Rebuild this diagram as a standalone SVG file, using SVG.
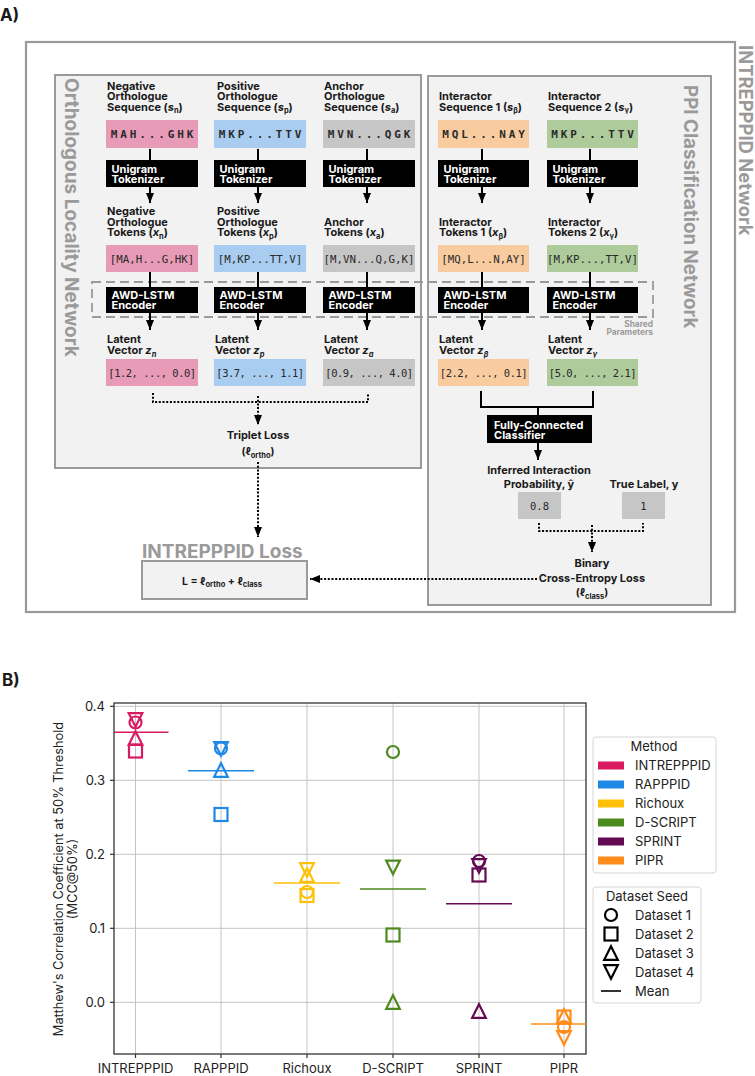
<svg xmlns="http://www.w3.org/2000/svg" xmlns:xlink="http://www.w3.org/1999/xlink" width="755" height="1076" viewBox="0 0 755 1076">
<style>
.t{font-family:Inter,'Liberation Sans','DejaVu Sans',sans-serif;font-weight:700;font-size:11px;fill:#1a1a1a}
.w{fill:#ffffff}
.mono{font-family:'DejaVu Sans Mono','Liberation Mono',monospace;fill:#2a2a2a}
.seq{font-size:11px;font-weight:700;letter-spacing:2.9px}
.tok{font-size:10.8px;font-weight:400}
.lat{font-size:10.5px;font-weight:400;letter-spacing:-0.5px}
.vt{font-family:Inter,'Liberation Sans',sans-serif;font-weight:700;font-size:19px;fill:#9a9a9a}
.panel{fill:#f2f2f2;stroke:#9a9a9a;stroke-width:2}
.blk{fill:#000}
.pink{fill:#e89bb7}.blue{fill:#a9cdf0}.grey{fill:#c6c6c6}.orng{fill:#f9cca0}.grn{fill:#aecb9b}
.ln{stroke:#000;stroke-width:2;fill:none}
.dot{stroke:#000;stroke-width:2;fill:none;stroke-dasharray:2 1.7}
.ax{font-family:Inter,'Liberation Sans',sans-serif;font-size:13px;fill:#222;font-weight:400}
.grid{stroke:#c4c4c4;stroke-width:1}
.mk{fill:none;stroke-width:2.2}
.mean{stroke-width:1.6}
.sub{font-size:7.5px}
</style>
<defs>
<marker id="ah" viewBox="0 0 10 8" refX="10" refY="4" markerWidth="10" markerHeight="8" markerUnits="userSpaceOnUse" orient="auto"><path d="M0,0 L10,4 L0,8 Z" fill="#000"/></marker>
<circle id="mc" r="6"/>
<rect id="ms" x="-6.5" y="-6.5" width="13" height="13"/>
<path id="mu" d="M0,-6.8 L6.8,6.8 L-6.8,6.8 Z"/>
<path id="md" d="M0,6.8 L6.8,-6.8 L-6.8,-6.8 Z"/>
</defs>

<text class="t" x="0" y="21" style="font-size:17px">A)</text>

<g id="intrepppid-network">
<rect x="26" y="42" width="709" height="570" fill="#fff" stroke="#9a9a9a" stroke-width="2.2"/>
<text class="vt" transform="translate(739,45) rotate(90)" style="font-size:18.4px">INTREPPPID Network</text>
</g>

<g id="ortho-network">
<rect class="panel" x="55" y="75" width="366" height="393"/>
<text class="vt" transform="translate(64.5,78) rotate(90)">Orthologous Locality Network</text>
</g>

<g id="ppi-network">
<rect class="panel" x="428" y="76" width="283" height="529"/>
<text class="vt" transform="translate(684,85) rotate(90)" style="font-size:18.8px">PPI Classification Network</text>
</g>

<g id="shared-parameters">
<rect x="92" y="282" width="561" height="35" fill="none" stroke="#9a9a9a" stroke-width="1.8" stroke-dasharray="9 5"/>
<text class="t" x="653" y="326.5" text-anchor="end" style="font-size:8.3px;fill:#9a9a9a">Shared</text>
<text class="t" x="653" y="335" text-anchor="end" style="font-size:8.3px;fill:#9a9a9a">Parameters</text>
</g>

<!-- column 1 -->
<g id="neg-seq">
<text class="t" x="107" y="89.5">Negative</text>
<text class="t" x="107" y="100">Orthologue</text>
<text class="t" x="107" y="110.5">Sequence (<tspan font-style="italic">s</tspan><tspan dy="2.5" class="sub">n</tspan><tspan dy="-2.5">)</tspan></text>
<rect class="pink" x="106" y="120" width="92" height="28"/>
<text class="mono seq" x="153.5" y="138" text-anchor="middle">MAH...GHK</text>
</g>
<g id="neg-tokenizer">
<rect class="blk" x="106" y="160" width="92" height="27"/>
<text class="t w" x="111.5" y="173">Unigram</text>
<text class="t w" x="111.5" y="183">Tokenizer</text>
</g>
<g id="neg-tokens">
<text class="t" x="107" y="215">Negative</text>
<text class="t" x="107" y="225.5">Orthologue</text>
<text class="t" x="107" y="236">Tokens (<tspan font-style="italic">x</tspan><tspan dy="2.5" class="sub">n</tspan><tspan dy="-2.5">)</tspan></text>
<rect class="pink" x="106" y="245" width="92" height="27"/>
<text class="mono tok" x="152" y="262.5" text-anchor="middle">[MA,H...G,HK]</text>
</g>
<g id="neg-encoder">
<rect class="blk" x="106" y="287" width="92" height="26"/>
<text class="t w" x="111.5" y="299">AWD-LSTM</text>
<text class="t w" x="111.5" y="309">Encoder</text>
</g>
<g id="neg-latent">
<text class="t" x="107" y="343">Latent</text>
<text class="t" x="107" y="354">Vector <tspan font-style="italic">z</tspan><tspan dy="2.5" class="sub" font-style="italic">n</tspan></text>
<rect class="pink" x="106" y="359" width="92" height="27"/>
<text class="mono lat" x="152" y="376.5" text-anchor="middle">[1.2, ..., 0.0]</text>
</g>

<!-- column 2 -->
<g id="pos-seq">
<text class="t" x="217" y="89.5">Positive</text>
<text class="t" x="217" y="100">Orthologue</text>
<text class="t" x="217" y="110.5">Sequence (<tspan font-style="italic">s</tspan><tspan dy="2.5" class="sub">p</tspan><tspan dy="-2.5">)</tspan></text>
<rect class="blue" x="214" y="120" width="92" height="28"/>
<text class="mono seq" x="261.5" y="138" text-anchor="middle">MKP...TTV</text>
</g>
<g id="pos-tokenizer">
<rect class="blk" x="214" y="160" width="92" height="27"/>
<text class="t w" x="219.5" y="173">Unigram</text>
<text class="t w" x="219.5" y="183">Tokenizer</text>
</g>
<g id="pos-tokens">
<text class="t" x="217" y="215">Positive</text>
<text class="t" x="217" y="225.5">Orthologue</text>
<text class="t" x="217" y="236">Tokens (<tspan font-style="italic">x</tspan><tspan dy="2.5" class="sub">p</tspan><tspan dy="-2.5">)</tspan></text>
<rect class="blue" x="214" y="245" width="92" height="27"/>
<text class="mono tok" x="260" y="262.5" text-anchor="middle">[M,KP...TT,V]</text>
</g>
<g id="pos-encoder">
<rect class="blk" x="214" y="287" width="92" height="26"/>
<text class="t w" x="219.5" y="299">AWD-LSTM</text>
<text class="t w" x="219.5" y="309">Encoder</text>
</g>
<g id="pos-latent">
<text class="t" x="215" y="343">Latent</text>
<text class="t" x="215" y="354">Vector <tspan font-style="italic">z</tspan><tspan dy="2.5" class="sub" font-style="italic">p</tspan></text>
<rect class="blue" x="214" y="359" width="92" height="27"/>
<text class="mono lat" x="260" y="376.5" text-anchor="middle">[3.7, ..., 1.1]</text>
</g>

<!-- column 3 -->
<g id="anc-seq">
<text class="t" x="324" y="89.5">Anchor</text>
<text class="t" x="324" y="100">Orthologue</text>
<text class="t" x="324" y="110.5">Sequence (<tspan font-style="italic">s</tspan><tspan dy="2.5" class="sub">a</tspan><tspan dy="-2.5">)</tspan></text>
<rect class="grey" x="323" y="120" width="92" height="28"/>
<text class="mono seq" x="370.5" y="138" text-anchor="middle">MVN...QGK</text>
</g>
<g id="anc-tokenizer">
<rect class="blk" x="323" y="160" width="92" height="27"/>
<text class="t w" x="328.5" y="173">Unigram</text>
<text class="t w" x="328.5" y="183">Tokenizer</text>
</g>
<g id="anc-tokens">
<text class="t" x="324" y="225.5">Anchor</text>
<text class="t" x="324" y="236">Tokens (<tspan font-style="italic">x</tspan><tspan dy="2.5" class="sub">a</tspan><tspan dy="-2.5">)</tspan></text>
<rect class="grey" x="323" y="245" width="92" height="27"/>
<text class="mono tok" x="369" y="262.5" text-anchor="middle">[M,VN...Q,G,K]</text>
</g>
<g id="anc-encoder">
<rect class="blk" x="323" y="287" width="92" height="26"/>
<text class="t w" x="328.5" y="299">AWD-LSTM</text>
<text class="t w" x="328.5" y="309">Encoder</text>
</g>
<g id="anc-latent">
<text class="t" x="324" y="343">Latent</text>
<text class="t" x="324" y="354">Vector <tspan font-style="italic">z</tspan><tspan dy="2.5" class="sub" font-style="italic">a</tspan></text>
<rect class="grey" x="323" y="359" width="92" height="27"/>
<text class="mono lat" x="369" y="376.5" text-anchor="middle">[0.9, ..., 4.0]</text>
</g>

<!-- column 4 -->
<g id="int1-seq">
<text class="t" x="439" y="100">Interactor</text>
<text class="t" x="439" y="110.5">Sequence 1 (<tspan font-style="italic">s</tspan><tspan dy="2.5" class="sub">β</tspan><tspan dy="-2.5">)</tspan></text>
<rect class="orng" x="438" y="120" width="91" height="28"/>
<text class="mono seq" x="485" y="138" text-anchor="middle">MQL...NAY</text>
</g>
<g id="int1-tokenizer">
<rect class="blk" x="438" y="160" width="91" height="27"/>
<text class="t w" x="443.5" y="173">Unigram</text>
<text class="t w" x="443.5" y="183">Tokenizer</text>
</g>
<g id="int1-tokens">
<text class="t" x="439" y="225.5">Interactor</text>
<text class="t" x="439" y="236">Tokens 1 (<tspan font-style="italic">x</tspan><tspan dy="2.5" class="sub">β</tspan><tspan dy="-2.5">)</tspan></text>
<rect class="orng" x="438" y="245" width="91" height="27"/>
<text class="mono tok" x="483.5" y="262.5" text-anchor="middle">[MQ,L...N,AY]</text>
</g>
<g id="int1-encoder">
<rect class="blk" x="438" y="287" width="91" height="26"/>
<text class="t w" x="443.5" y="299">AWD-LSTM</text>
<text class="t w" x="443.5" y="309">Encoder</text>
</g>
<g id="int1-latent">
<text class="t" x="439" y="343">Latent</text>
<text class="t" x="439" y="354">Vector <tspan font-style="italic">z</tspan><tspan dy="2.5" class="sub" font-style="italic">β</tspan></text>
<rect class="orng" x="438" y="359" width="91" height="27"/>
<text class="mono lat" x="483.5" y="376.5" text-anchor="middle">[2.2, ..., 0.1]</text>
</g>

<!-- column 5 -->
<g id="int2-seq">
<text class="t" x="548" y="100">Interactor</text>
<text class="t" x="548" y="110.5">Sequence 2 (<tspan font-style="italic">s</tspan><tspan dy="2.5" class="sub">γ</tspan><tspan dy="-2.5">)</tspan></text>
<rect class="grn" x="547" y="120" width="91" height="28"/>
<text class="mono seq" x="594" y="138" text-anchor="middle">MKP...TTV</text>
</g>
<g id="int2-tokenizer">
<rect class="blk" x="547" y="160" width="91" height="27"/>
<text class="t w" x="552.5" y="173">Unigram</text>
<text class="t w" x="552.5" y="183">Tokenizer</text>
</g>
<g id="int2-tokens">
<text class="t" x="548" y="225.5">Interactor</text>
<text class="t" x="548" y="236">Tokens 2 (<tspan font-style="italic">x</tspan><tspan dy="2.5" class="sub">γ</tspan><tspan dy="-2.5">)</tspan></text>
<rect class="grn" x="547" y="245" width="91" height="27"/>
<text class="mono tok" x="592.5" y="262.5" text-anchor="middle">[M,KP...,TT,V]</text>
</g>
<g id="int2-encoder">
<rect class="blk" x="547" y="287" width="91" height="26"/>
<text class="t w" x="552.5" y="299">AWD-LSTM</text>
<text class="t w" x="552.5" y="309">Encoder</text>
</g>
<g id="int2-latent">
<text class="t" x="548" y="343">Latent</text>
<text class="t" x="548" y="354">Vector <tspan font-style="italic">z</tspan><tspan dy="2.5" class="sub" font-style="italic">γ</tspan></text>
<rect class="grn" x="547" y="359" width="91" height="27"/>
<text class="mono lat" x="592.5" y="376.5" text-anchor="middle">[5.0, ..., 2.1]</text>
</g>

<g id="triplet-loss">
<text class="t" x="258" y="439" text-anchor="middle">Triplet Loss</text>
<text class="t" x="258" y="455" text-anchor="middle" style="font-size:10.5px">(ℓ<tspan dy="2.5" class="sub">ortho</tspan><tspan dy="-2.5">)</tspan></text>
</g>

<g id="classifier">
<rect class="blk" x="487" y="415" width="105" height="28"/>
<text class="t w" x="494" y="429">Fully-Connected</text>
<text class="t w" x="494" y="438.5">Classifier</text>
</g>

<g id="inferred-probability">
<text class="t" x="539" y="474" text-anchor="middle">Inferred Interaction</text>
<text class="t" x="539" y="488" text-anchor="middle">Probability, ŷ</text>
<rect class="grey" x="518" y="492" width="43" height="27"/>
<text class="mono" x="539.5" y="509.5" text-anchor="middle" font-size="10.5px">0.8</text>
</g>

<g id="true-label">
<text class="t" x="644" y="488" text-anchor="middle">True Label, y</text>
<rect class="grey" x="622" y="492" width="43" height="27"/>
<text class="mono" x="643.5" y="509.5" text-anchor="middle" font-size="10.5px">1</text>
</g>

<g id="bce-loss">
<text class="t" x="592" y="567" text-anchor="middle">Binary</text>
<text class="t" x="592" y="582" text-anchor="middle">Cross-Entropy Loss</text>
<text class="t" x="592" y="596" text-anchor="middle" style="font-size:10.5px">(ℓ<tspan dy="2.5" class="sub">class</tspan><tspan dy="-2.5">)</tspan></text>
</g>

<g id="intrepppid-loss">
<text class="t" x="142" y="558" style="font-size:19px;fill:#9a9a9a">INTREPPPID Loss</text>
<rect x="142" y="561" width="165" height="38" fill="#f2f2f2" stroke="#9a9a9a" stroke-width="2"/>
<text class="t" x="222" y="584.5" text-anchor="middle" style="font-size:10.5px">L = ℓ<tspan dy="2.5" class="sub">ortho</tspan><tspan dy="-2.5"> + ℓ</tspan><tspan dy="2.5" class="sub">class</tspan></text>
</g>

<g id="connectors">
<line class="ln" x1="150" y1="149" x2="150" y2="160"/>
<line class="ln" x1="258" y1="149" x2="258" y2="160"/>
<line class="ln" x1="367" y1="149" x2="367" y2="160"/>
<line class="ln" x1="482" y1="149" x2="482" y2="160"/>
<line class="ln" x1="590" y1="149" x2="590" y2="160"/>
<line class="ln" x1="150" y1="187" x2="150" y2="203" marker-end="url(#ah)"/>
<line class="ln" x1="258" y1="187" x2="258" y2="203" marker-end="url(#ah)"/>
<line class="ln" x1="367" y1="187" x2="367" y2="203" marker-end="url(#ah)"/>
<line class="ln" x1="482" y1="187" x2="482" y2="203" marker-end="url(#ah)"/>
<line class="ln" x1="590" y1="187" x2="590" y2="203" marker-end="url(#ah)"/>
<line class="ln" x1="150" y1="272" x2="150" y2="287"/>
<line class="ln" x1="258" y1="272" x2="258" y2="287"/>
<line class="ln" x1="367" y1="272" x2="367" y2="287"/>
<line class="ln" x1="482" y1="272" x2="482" y2="287"/>
<line class="ln" x1="590" y1="272" x2="590" y2="287"/>
<line class="ln" x1="150" y1="313" x2="150" y2="330" marker-end="url(#ah)"/>
<line class="ln" x1="258" y1="313" x2="258" y2="330" marker-end="url(#ah)"/>
<line class="ln" x1="367" y1="313" x2="367" y2="330" marker-end="url(#ah)"/>
<line class="ln" x1="482" y1="313" x2="482" y2="330" marker-end="url(#ah)"/>
<line class="ln" x1="590" y1="313" x2="590" y2="330" marker-end="url(#ah)"/>
<path class="dot" d="M153,393 V402 H368 V393"/>
<line class="dot" x1="258" y1="396" x2="258" y2="425" marker-end="url(#ah)"/>
<line class="dot" x1="258" y1="462" x2="258" y2="537" marker-end="url(#ah)"/>
<path class="ln" d="M481,391 V407 H593 V391"/>
<line class="ln" x1="538" y1="407" x2="538" y2="415"/>
<line class="ln" x1="538" y1="443" x2="538" y2="460" marker-end="url(#ah)"/>
<path class="dot" d="M539,523 V531 H643 V523"/>
<line class="dot" x1="592" y1="525" x2="592" y2="552" marker-end="url(#ah)"/>
<line class="dot" x1="537" y1="579" x2="310" y2="579" marker-end="url(#ah)"/>
</g>

<text class="t" x="2" y="686" style="font-size:17px">B)</text>

<g id="chart-grid">
<line class="grid" x1="135.5" y1="703" x2="135.5" y2="1054"/>
<line class="grid" x1="221" y1="703" x2="221" y2="1054"/>
<line class="grid" x1="307" y1="703" x2="307" y2="1054"/>
<line class="grid" x1="393" y1="703" x2="393" y2="1054"/>
<line class="grid" x1="479" y1="703" x2="479" y2="1054"/>
<line class="grid" x1="564" y1="703" x2="564" y2="1054"/>
<line class="grid" x1="114" y1="706.3" x2="586" y2="706.3"/>
<line class="grid" x1="114" y1="780.3" x2="586" y2="780.3"/>
<line class="grid" x1="114" y1="854.3" x2="586" y2="854.3"/>
<line class="grid" x1="114" y1="928.3" x2="586" y2="928.3"/>
<line class="grid" x1="114" y1="1002.3" x2="586" y2="1002.3"/>
</g>

<g id="chart-axes">
<rect x="114" y="703" width="472" height="351" fill="none" stroke="#333" stroke-width="1.3"/>
<g stroke="#333" stroke-width="1.2">
<line x1="110" y1="706.3" x2="114" y2="706.3"/><line x1="110" y1="780.3" x2="114" y2="780.3"/><line x1="110" y1="854.3" x2="114" y2="854.3"/><line x1="110" y1="928.3" x2="114" y2="928.3"/><line x1="110" y1="1002.3" x2="114" y2="1002.3"/>
<line x1="135.5" y1="1054" x2="135.5" y2="1058"/><line x1="221" y1="1054" x2="221" y2="1058"/><line x1="307" y1="1054" x2="307" y2="1058"/><line x1="393" y1="1054" x2="393" y2="1058"/><line x1="479" y1="1054" x2="479" y2="1058"/><line x1="564" y1="1054" x2="564" y2="1058"/>
</g>
<text class="ax" x="105" y="711" text-anchor="end">0.4</text>
<text class="ax" x="105" y="785" text-anchor="end">0.3</text>
<text class="ax" x="105" y="859" text-anchor="end">0.2</text>
<text class="ax" x="105" y="933" text-anchor="end">0.1</text>
<text class="ax" x="105" y="1007" text-anchor="end">0.0</text>
<text class="ax" x="135.5" y="1073" text-anchor="middle">INTREPPPID</text>
<text class="ax" x="221" y="1073" text-anchor="middle">RAPPPID</text>
<text class="ax" x="307" y="1073" text-anchor="middle">Richoux</text>
<text class="ax" x="393" y="1073" text-anchor="middle">D-SCRIPT</text>
<text class="ax" x="479" y="1073" text-anchor="middle">SPRINT</text>
<text class="ax" x="564" y="1073" text-anchor="middle">PIPR</text>
<text class="ax" style="font-size:12.8px" transform="translate(62.5,879) rotate(-90)" text-anchor="middle">Matthew's Correlation Coefficient at 50% Threshold</text>
<text class="ax" style="font-size:12.8px" transform="translate(77,879) rotate(-90)" text-anchor="middle">(MCC@50%)</text>
</g>

<g id="series-intrepppid" stroke="#d81b60">
<line class="mean" x1="114" y1="732.3" x2="168.5" y2="732.3"/>
<use href="#md" class="mk" x="135.5" y="720"/>
<use href="#mc" class="mk" x="135.5" y="722.5"/>
<use href="#mu" class="mk" x="135.5" y="738"/>
<use href="#ms" class="mk" x="135.5" y="751"/>
</g>
<g id="series-rapppid" stroke="#1e88e5">
<line class="mean" x1="188" y1="770.7" x2="254" y2="770.7"/>
<use href="#md" class="mk" x="221" y="749"/>
<use href="#mc" class="mk" x="221" y="748.5"/>
<use href="#mu" class="mk" x="221" y="770"/>
<use href="#ms" class="mk" x="221" y="814.5"/>
</g>
<g id="series-richoux" stroke="#ffc107">
<line class="mean" x1="274" y1="883" x2="340" y2="883"/>
<use href="#md" class="mk" x="307" y="870"/>
<use href="#mu" class="mk" x="307" y="875"/>
<use href="#mc" class="mk" x="307" y="892"/>
<use href="#ms" class="mk" x="307" y="895.5"/>
</g>
<g id="series-dscript" stroke="#4c8a1e">
<line class="mean" x1="360" y1="889" x2="426" y2="889"/>
<use href="#mc" class="mk" x="393" y="752"/>
<use href="#md" class="mk" x="393" y="867.5"/>
<use href="#ms" class="mk" x="393" y="935"/>
<use href="#mu" class="mk" x="393" y="1002"/>
</g>
<g id="series-sprint" stroke="#640a52">
<line class="mean" x1="446" y1="903.7" x2="512" y2="903.7"/>
<use href="#mc" class="mk" x="479" y="861"/>
<use href="#md" class="mk" x="479" y="866"/>
<use href="#ms" class="mk" x="479" y="875"/>
<use href="#mu" class="mk" x="479" y="1011"/>
</g>
<g id="series-pipr" stroke="#ff8c1a">
<line class="mean" x1="531" y1="1024" x2="586" y2="1024"/>
<use href="#ms" class="mk" x="564" y="1017"/>
<use href="#mu" class="mk" x="564" y="1016"/>
<use href="#mc" class="mk" x="564" y="1027"/>
<use href="#md" class="mk" x="564" y="1038"/>
</g>

<g id="legend-method">
<rect x="593" y="737" width="123" height="136" rx="3" fill="#fff" stroke="#d6d6d6" stroke-width="1"/>
<text class="ax" x="654" y="751" text-anchor="middle">Method</text>
<rect x="598" y="761.5" width="26" height="8" fill="#d81b60"/>
<rect x="598" y="780.5" width="26" height="8" fill="#1e88e5"/>
<rect x="598" y="799.5" width="26" height="8" fill="#ffc107"/>
<rect x="598" y="818.5" width="26" height="8" fill="#4c8a1e"/>
<rect x="598" y="837.5" width="26" height="8" fill="#640a52"/>
<rect x="598" y="856.5" width="26" height="8" fill="#ff8c1a"/>
<text class="ax" x="635" y="770.2">INTREPPPID</text>
<text class="ax" x="635" y="789.2">RAPPPID</text>
<text class="ax" x="635" y="808.2">Richoux</text>
<text class="ax" x="635" y="827.2">D-SCRIPT</text>
<text class="ax" x="635" y="846.2">SPRINT</text>
<text class="ax" x="635" y="865.2">PIPR</text>
</g>

<g id="legend-seed">
<rect x="593" y="887" width="108" height="116" rx="3" fill="#fff" stroke="#d6d6d6" stroke-width="1"/>
<text class="ax" x="647" y="901" text-anchor="middle">Dataset Seed</text>
<g stroke="#000">
<use href="#mc" class="mk" x="611" y="915"/>
<use href="#ms" class="mk" x="611" y="934"/>
<use href="#mu" class="mk" x="611" y="953"/>
<use href="#md" class="mk" x="611" y="972"/>
<line class="mean" x1="601" y1="991" x2="621" y2="991"/>
</g>
<text class="ax" x="635" y="919.7">Dataset 1</text>
<text class="ax" x="635" y="938.7">Dataset 2</text>
<text class="ax" x="635" y="957.7">Dataset 3</text>
<text class="ax" x="635" y="976.7">Dataset 4</text>
<text class="ax" x="635" y="995.7">Mean</text>
</g>
</svg>
